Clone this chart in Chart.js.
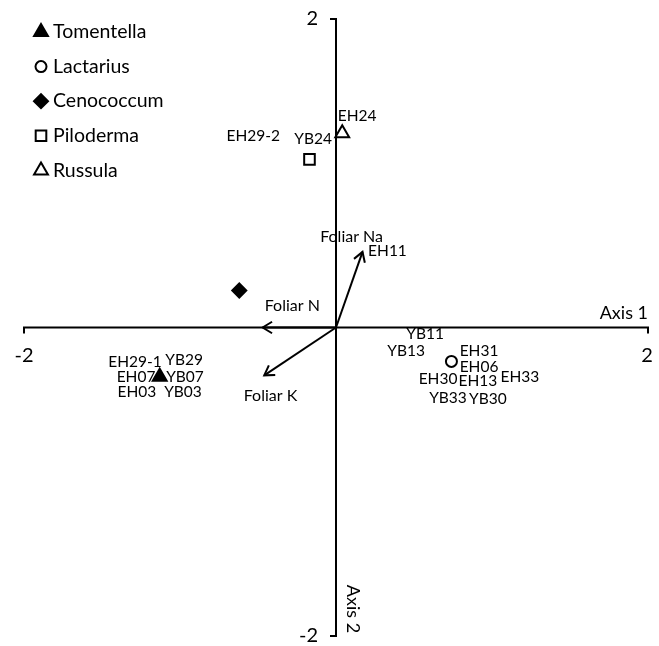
<!DOCTYPE html>
<html>
<head>
<meta charset="utf-8">
<script src="https://cdn.jsdelivr.net/npm/chart.js@4/dist/chart.umd.min.js"></script>
<style>html,body{margin:0;padding:0;background:#fff}</style>
</head>
<body>
<canvas id="ordinationChart" width="659" height="646"></canvas>
<script>
// genus centroids on the two ordination axes
const genera = ["Tomentella", "Lactarius", "Cenococcum", "Piloderma", "Russula"]
const genusAxis1 = [-1.13, 0.74, -0.62, -0.17, 0.04]
const genusAxis2 = [-0.32, -0.22, 0.24, 1.09, 1.26]

// foliar nutrient vectors
const vectors = ["Foliar Na", "Foliar N", "Foliar K"]
const vectorAxis1 = [0.17, -0.47, -0.46]
const vectorAxis2 = [0.49, 0, -0.31]
const vectorLabelAxis1 = [0.10, -0.28, -0.42]
const vectorLabelAxis2 = [0.59, 0.14, -0.44]

// site labels
const sites = ["EH11", "EH24", "YB24", "EH29-2", "EH29-1", "YB29", "EH07", "YB07", "EH03", "YB03",
    "YB11", "YB13", "EH31", "EH06", "EH30", "EH13", "EH33", "YB33", "YB30"]
const siteAxis1 = [0.33, 0.135, -0.147, -0.53, -1.288, -0.974, -1.282, -0.968, -1.276, -0.981,
    0.571, 0.449, 0.917, 0.917, 0.654, 0.91, 1.179, 0.718, 0.974]
const siteAxis2 = [0.497, 1.374, 1.219, 1.239, -0.226, -0.213, -0.323, -0.323, -0.419, -0.419,
    -0.039, -0.155, -0.155, -0.258, -0.335, -0.348, -0.323, -0.458, -0.465]

const axisTicks = [-2, 2]
const axisTitles = ["Axis 1", "Axis 2"]

const markers = [
    { pointStyle: "triangle", radius: 8, fill: "#000" },
    { pointStyle: "circle", radius: 5.5, fill: "#fff" },
    { pointStyle: "rectRot", radius: 7, fill: "#000" },
    { pointStyle: "rect", radius: 7.5, fill: "#fff" },
    { pointStyle: "triangle", radius: 8, fill: "#fff" }
]
const font = "Lato, 'Liberation Sans', sans-serif"

const datasets = genera.map((g, i) => ({
    label: g,
    data: [{ x: genusAxis1[i], y: genusAxis2[i] }],
    pointStyle: markers[i].pointStyle,
    pointRadius: markers[i].radius,
    pointHoverRadius: markers[i].radius,
    backgroundColor: markers[i].fill,
    borderColor: "#000",
    borderWidth: 2
}))

vectors.forEach((v, i) => {
    datasets.push({
        label: v,
        data: [{ x: 0, y: 0 }, { x: vectorAxis1[i], y: vectorAxis2[i] }],
        showLine: true,
        pointRadius: 0,
        borderColor: "#000",
        borderWidth: 2
    })
})

const biplotPlugin = {
    id: "biplot",
    beforeDatasetsDraw(chart) {
        const ctx = chart.ctx
        const sx = chart.scales.x
        const sy = chart.scales.y
        const x0 = sx.getPixelForValue(0)
        const y0 = sy.getPixelForValue(0)
        const xl = sx.getPixelForValue(axisTicks[0])
        const xr = sx.getPixelForValue(axisTicks[1])
        const yt = sy.getPixelForValue(axisTicks[1])
        const yb = sy.getPixelForValue(axisTicks[0])
        ctx.save()
        ctx.strokeStyle = "#000"
        ctx.lineWidth = 2
        ctx.beginPath()
        ctx.moveTo(xl, y0 + 6); ctx.lineTo(xl, y0); ctx.lineTo(xr, y0); ctx.lineTo(xr, y0 + 6)
        ctx.moveTo(x0 - 6, yt); ctx.lineTo(x0, yt); ctx.lineTo(x0, yb); ctx.lineTo(x0 - 6, yb)
        ctx.stroke()

        ctx.fillStyle = "#000"
        ctx.font = "20px " + font
        ctx.textAlign = "center"
        ctx.textBaseline = "middle"
        ctx.fillText(String(axisTicks[0]), xl, y0 + 28)
        ctx.fillText(String(axisTicks[1]), xr - 1, y0 + 28)
        ctx.textAlign = "right"
        ctx.fillText(String(axisTicks[1]), x0 - 18, yt)
        ctx.fillText(String(axisTicks[0]), x0 - 18, yb)

        ctx.font = "18px " + font
        ctx.textAlign = "right"
        ctx.fillText(axisTitles[0], xr, y0 - 14)
        ctx.translate(x0 + 17, yb - 27)
        ctx.rotate(Math.PI / 2)
        ctx.textAlign = "center"
        ctx.fillText(axisTitles[1], 0, 0)
        ctx.restore()
    },
    afterDatasetsDraw(chart) {
        const ctx = chart.ctx
        const sx = chart.scales.x
        const sy = chart.scales.y
        ctx.save()
        ctx.strokeStyle = "#000"
        ctx.fillStyle = "#000"
        ctx.lineWidth = 2

        // arrow heads
        vectors.forEach((v, i) => {
            const tx = sx.getPixelForValue(vectorAxis1[i])
            const ty = sy.getPixelForValue(vectorAxis2[i])
            const ang = Math.atan2(ty - sy.getPixelForValue(0), tx - sx.getPixelForValue(0))
            const len = 11
            ctx.beginPath()
            ctx.moveTo(tx + len * Math.cos(ang + Math.PI - 0.55), ty + len * Math.sin(ang + Math.PI - 0.55))
            ctx.lineTo(tx, ty)
            ctx.lineTo(tx + len * Math.cos(ang + Math.PI + 0.55), ty + len * Math.sin(ang + Math.PI + 0.55))
            ctx.stroke()
        })

        ctx.textAlign = "center"
        ctx.textBaseline = "middle"
        ctx.font = "16px " + font
        vectors.forEach((v, i) => {
            ctx.fillText(v, sx.getPixelForValue(vectorLabelAxis1[i]), sy.getPixelForValue(vectorLabelAxis2[i]))
        })
        ctx.font = "15.5px " + font
        sites.forEach((s, i) => {
            ctx.fillText(s, sx.getPixelForValue(siteAxis1[i]), sy.getPixelForValue(siteAxis2[i]))
        })

        // legend
        ctx.font = "19.5px " + font
        ctx.textAlign = "left"
        genera.forEach((g, i) => {
            const ly = 32 + 34.6 * i
            ctx.fillStyle = markers[i].fill
            ctx.strokeStyle = "#000"
            Chart.helpers.drawPoint(ctx, {
                pointStyle: markers[i].pointStyle,
                radius: markers[i].radius,
                rotation: 0,
                borderWidth: 2
            }, 41, ly)
            ctx.fillStyle = "#000"
            ctx.fillText(g, 53, ly)
        })
        ctx.restore()
    }
}

new Chart(document.getElementById("ordinationChart"), {
    type: "scatter",
    data: { datasets: datasets },
    options: {
        responsive: false,
        animation: false,
        devicePixelRatio: 1,
        layout: { padding: { left: 24, right: 11, top: 19, bottom: 7 } },
        plugins: { legend: { display: false }, tooltip: { enabled: false } },
        scales: {
            x: { display: false, min: -2, max: 2 },
            y: { display: false, min: -2, max: 2 }
        }
    },
    plugins: [biplotPlugin]
})
</script>
</body>
</html>
